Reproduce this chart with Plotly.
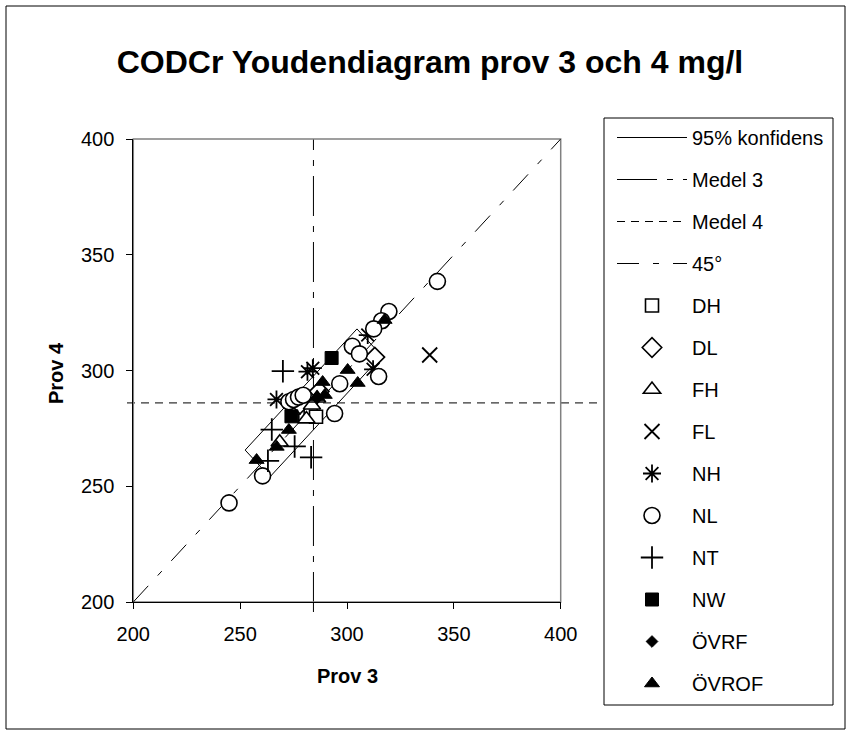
import numpy as np
import plotly.graph_objects as go

# Youden plot: sample 3 (x) vs sample 4 (y), CODCr mg/l
mean3 = 284.3
mean4 = 286.0
box_half_len = 37.0    # half length of the 95 % box along the 45 degree direction
box_half_wid = 8.2     # half width across it

diag = [200, 400]

DH_x = [280.5, 283.0, 285.5, 275.0]
DH_y = [281.0, 283.5, 280.0, 284.0]

DL_x = [313.0, 278.0, 287.0]
DL_y = [305.8, 285.5, 291.0]

FH_x = [283.6, 268.5, 286.0, 281.0]
FH_y = [285.0, 269.0, 288.0, 279.0]

FL_x = [338.7]
FL_y = [306.7]

NH_x = [309.7, 312.2, 267.0, 284.0, 281.5]
NH_y = [315.3, 300.5, 287.5, 301.0, 299.5]

NL_x = [244.8, 260.5, 342.3, 319.6, 316.2, 312.5, 302.5, 305.8, 314.8,
        296.6, 294.2, 272.8, 275.0, 277.3, 279.5]
NL_y = [242.8, 254.5, 338.5, 325.5, 321.5, 318.0, 310.5, 307.2, 297.4,
        294.3, 281.4, 286.5, 287.5, 288.5, 289.3]

NT_x = [270.0, 275.5, 283.2, 264.8, 263.0]
NT_y = [299.7, 267.2, 262.5, 274.5, 261.0]

NW_x = [292.8, 274.0]
NW_y = [305.4, 280.2]

OVRF_x = [286.0]
OVRF_y = [288.0]

OVROF_x = [317.6, 300.3, 305.0, 288.6, 289.6, 272.8, 267.1, 257.7, 286.0]
OVROF_y = [321.8, 300.2, 294.6, 295.0, 289.4, 274.3, 267.0, 261.3, 288.5]

# 95 % confidence box around the two means, tilted 45 degrees
u = np.array([1.0, 1.0]) / np.sqrt(2)    # along the diagonal
v = np.array([-1.0, 1.0]) / np.sqrt(2)   # across it
corners = [(-1, 1), (1, 1), (1, -1), (-1, -1), (-1, 1)]
box_x = [mean3 + s * box_half_len * u[0] + p * box_half_wid * v[0] for s, p in corners]
box_y = [mean4 + s * box_half_len * u[1] + p * box_half_wid * v[1] for s, p in corners]

fig = go.Figure()

fig.add_trace(go.Scatter(x=box_x, y=box_y, mode="lines", name="95% konfidens",
                         line=dict(color="black", width=1), legendgroup="a"))
fig.add_trace(go.Scatter(x=[None], y=[None], mode="lines", name="Medel 3",
                         line=dict(color="black", width=1, dash="40px,10px,6px,10px"),
                         legendgroup="b"))
fig.add_trace(go.Scatter(x=[None], y=[None], mode="lines", name="Medel 4",
                         line=dict(color="black", width=1, dash="8px,6px"),
                         legendgroup="c"))
fig.add_trace(go.Scatter(x=diag, y=diag, mode="lines", name="45°",
                         line=dict(color="black", width=1, dash="22px,14px,6px,14px"),
                         legendgroup="d"))

open_line = dict(color="black", width=1.6)
series = [
    ("DH", DH_x, DH_y, dict(symbol="square", size=13, color="white", line=open_line)),
    ("DL", DL_x, DL_y, dict(symbol="diamond", size=15, color="white", line=open_line)),
    ("FH", FH_x, FH_y, dict(symbol="triangle-up", size=15, color="white", line=open_line)),
    ("FL", FL_x, FL_y, dict(symbol="x-thin-open", size=15, color="black",
                            line=dict(color="black", width=1.8))),
    ("NH", NH_x, NH_y, dict(symbol="asterisk-open", size=15, color="black",
                            line=dict(color="black", width=1.8))),
    ("NL", NL_x, NL_y, dict(symbol="circle", size=16, color="white", line=open_line)),
    ("NT", NT_x, NT_y, dict(symbol="cross-thin-open", size=16, color="black",
                            line=dict(color="black", width=1.8))),
    ("NW", NW_x, NW_y, dict(symbol="square", size=13, color="black",
                            line=dict(color="black", width=1))),
    ("ÖVRF", OVRF_x, OVRF_y, dict(symbol="diamond", size=9, color="black",
                                   line=dict(color="black", width=1))),
    ("ÖVROF", OVROF_x, OVROF_y, dict(symbol="triangle-up", size=13, color="black",
                                     line=dict(color="black", width=1))),
]
for i, (name, xs, ys, mk) in enumerate(series):
    fig.add_trace(go.Scatter(x=xs, y=ys, mode="markers", name=name, marker=mk,
                             legendgroup="m%d" % i, cliponaxis=False))

# mean lines run slightly past the plot frame
fig.add_shape(type="line", xref="x", yref="paper", x0=mean3, x1=mean3,
              y0=1 - 612 / 731, y1=1 - 139 / 731, layer="below",
              line=dict(color="black", width=1, dash="40px,10px,6px,10px"))
fig.add_shape(type="line", xref="paper", yref="y", x0=127 / 851, x1=601 / 851,
              y0=mean4, y1=mean4, layer="below",
              line=dict(color="black", width=1, dash="8px,6px"))

# grey frame on the top/right of the plot area
fig.add_shape(type="rect", xref="x domain", yref="y domain", x0=0, x1=1, y0=0, y1=1,
              line=dict(color="#808080", width=1.5), layer="below")
# legend box
fig.add_shape(type="rect", xref="paper", yref="paper",
              x0=604 / 851, x1=833 / 851, y0=1 - 705 / 731, y1=1 - 118 / 731,
              line=dict(color="black", width=1))
# outer chart border
fig.add_shape(type="rect", xref="paper", yref="paper",
              x0=6 / 851, x1=845 / 851, y0=1 - 729 / 731, y1=1 - 6 / 731,
              line=dict(color="black", width=1))

tick_font = dict(family="Liberation Sans, Arial, sans-serif", size=20, color="black")

fig.update_xaxes(range=[200, 400], tickvals=[200, 250, 300, 350, 400],
                 showgrid=False, zeroline=False, showline=True, linecolor="black",
                 linewidth=1, ticks="outside", ticklen=6, tickcolor="black",
                 tickfont=tick_font, ticklabelstandoff=8, automargin=False,
                 domain=[133.3 / 851, 560.7 / 851])
fig.update_yaxes(range=[200, 400], tickvals=[200, 250, 300, 350, 400],
                 showgrid=False, zeroline=False, showline=True, linecolor="black",
                 linewidth=1, ticks="outside", ticklen=6, tickcolor="black",
                 tickfont=tick_font, ticklabelstandoff=8, automargin=False,
                 domain=[1 - 602 / 731, 1 - 139 / 731])

axis_title_font = dict(family="Liberation Sans, Arial, sans-serif", size=20, color="black")
fig.add_annotation(text="<b>Prov 3</b>", xref="paper", yref="paper",
                   x=347 / 851, y=1 - 676 / 731, xanchor="center", yanchor="middle",
                   showarrow=False, font=axis_title_font)
fig.add_annotation(text="<b>Prov 4</b>", xref="paper", yref="paper",
                   x=56 / 851, y=1 - 373 / 731, xanchor="center", yanchor="middle",
                   showarrow=False, textangle=-90, font=axis_title_font)

fig.update_layout(
    width=851, height=731,
    margin=dict(l=0, r=0, t=0, b=0, autoexpand=False),
    paper_bgcolor="white", plot_bgcolor="white",
    title=dict(text="<b>CODCr Youdendiagram prov 3 och 4 mg/l</b>",
               x=430 / 851, xanchor="center", y=1 - 62 / 731, yanchor="middle",
               font=dict(family="Liberation Sans, Arial, sans-serif", size=32, color="black")),
    showlegend=True,
    legend=dict(x=612 / 851, xanchor="left", y=1 - 118 / 731, yanchor="top",
                bgcolor="rgba(0,0,0,0)", borderwidth=0,
                font=dict(family="Liberation Sans, Arial, sans-serif", size=20, color="black"),
                itemwidth=70, tracegroupgap=13, traceorder="grouped"),
)

fig.write_html("out.html")
